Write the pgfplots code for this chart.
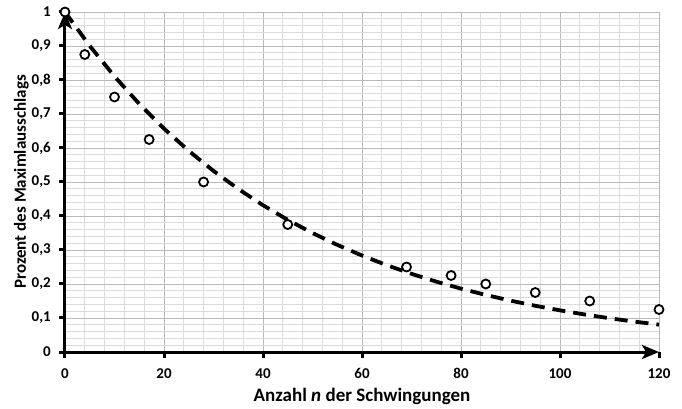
\documentclass[border=0pt]{standalone}
\usepackage{fontspec}
\setmainfont{Carlito}
\usepackage{pgfplots}
\pgfplotsset{compat=1.18}
\usetikzlibrary{arrows.meta}

\begin{document}
\begin{tikzpicture}
\begin{axis}[
    scale only axis,
    width=594pt, height=340pt,
    xmin=0, xmax=120, ymin=0, ymax=1,
    axis lines=left,
    axis line style={line width=3pt, -{Stealth[length=17pt,width=14pt,inset=4pt]}},
    xtick={0,20,...,120}, ytick={0,0.1,...,1},
    minor x tick num=4, minor y tick num=4,
    tick align=outside,
    major tick length=6pt, minor tick length=0pt,
    tick style={line width=3pt, black},
    grid=both,
    major grid style={gray!55, line width=0.9pt},
    minor grid style={gray!28, line width=0.9pt},
    /pgf/number format/assume math mode=true,
    /pgf/number format/use comma,
    tick label style={font=\fontsize{15}{17}\selectfont\bfseries, inner sep=0pt},
    xticklabel style={anchor=base, yshift=-20pt},
    yticklabel style={anchor=east, xshift=-8pt},
    xlabel={Anzahl \textit{n} der Schwingungen},
    ylabel={Prozent des Maximlausschlags},
    xlabel style={font=\fontsize{19}{21}\selectfont\bfseries, inner sep=0pt,
        at={(axis description cs:0.5,0)}, anchor=base, yshift=-49pt},
    ylabel style={font=\fontsize{17}{19}\selectfont\bfseries, inner sep=0pt,
        at={(axis description cs:0,0.5)}, anchor=base, yshift=39pt},
    clip=false,
]
    % exponential fit, sampled
    \addplot[black, line width=3.8pt, dash pattern=on 13pt off 8pt] coordinates {
        (0,1) (5,0.9003) (10,0.8106) (15,0.7298) (20,0.6570) (25,0.5916)
        (30,0.5326) (35,0.4795) (40,0.4317) (45,0.3887) (50,0.3499)
        (55,0.3151) (60,0.2837) (65,0.2554) (70,0.2299) (75,0.2070)
        (80,0.1864) (85,0.1678) (90,0.1511) (95,0.1360) (100,0.1225)
        (105,0.1103) (110,0.0993) (115,0.0894) (120,0.0805)
    };
    % measured
    \addplot[only marks, mark=*, mark size=4.5pt,
        mark options={draw=black, fill=white, line width=1.8pt}] coordinates {
        (0,1) (4,0.875) (10,0.75) (17,0.625) (28,0.5) (45,0.375)
        (69,0.25) (78,0.225) (85,0.2) (95,0.175) (106,0.15) (120,0.125)
    };
    \coordinate (bl) at (rel axis cs:0,0);
    \coordinate (tr) at (rel axis cs:1,1);
\end{axis}
\pgfresetboundingbox
\path ([xshift=-65pt,yshift=-57pt]bl) rectangle ([xshift=23pt,yshift=12pt]tr);
\end{tikzpicture}
\end{document}
